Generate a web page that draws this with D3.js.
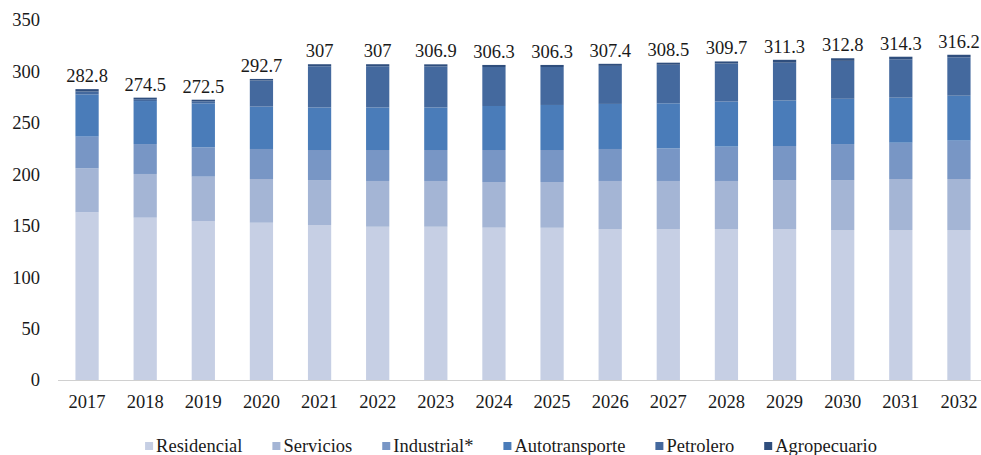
<!DOCTYPE html>
<html>
<head>
<meta charset="utf-8">
<script src="https://cdn.jsdelivr.net/npm/d3@7"></script>
<style>
  body { margin: 0; background: #fff; font-family: "Liberation Serif", serif; }
</style>
</head>
<body>
<div id="target"></div>
<script>
var years = ["2017", "2018", "2019", "2020", "2021", "2022", "2023", "2024", "2025", "2026", "2027", "2028", "2029", "2030", "2031", "2032"];
var sectors = ["Residencial", "Servicios", "Industrial*", "Autotransporte", "Petrolero", "Agropecuario"];
var colors = ["#c6cfe4", "#a4b5d5", "#7896c5", "#4a7cb9", "#44699e", "#2f4e7d"];

var residencial    = [163.0, 157.8, 154.6, 152.9, 150.7, 149.0, 149.0, 148.1, 148.0, 146.8, 146.8, 146.8, 146.8, 145.8, 145.8, 145.8];
var servicios      = [42.8, 42.5, 43.1, 42.5, 43.7, 44.5, 44.5, 44.4, 44.5, 46.7, 46.7, 46.7, 47.6, 48.6, 49.6, 49.6];
var industrial     = [30.8, 29.1, 28.5, 29.2, 29.2, 30.1, 30.1, 31.1, 31.1, 31.1, 31.7, 33.4, 33.1, 35.0, 35.3, 37.3];
var autotransporte = [41.1, 41.8, 42.8, 41.2, 41.4, 41.4, 41.4, 42.8, 43.8, 43.8, 43.8, 43.8, 44.2, 44.0, 43.8, 43.7];
var petrolero      = [2.8, 1.8, 2.0, 25.4, 40.0, 40.0, 39.9, 37.9, 36.9, 37.0, 37.5, 37.0, 36.8, 36.9, 37.3, 37.3];
var agropecuario   = [2.3, 1.5, 1.5, 1.5, 2.0, 2.0, 2.0, 2.0, 2.0, 2.0, 2.0, 2.0, 2.8, 2.5, 2.5, 2.5];
var totals = ["282.8", "274.5", "272.5", "292.7", "307", "307", "306.9", "306.3", "306.3", "307.4", "308.5", "309.7", "311.3", "312.8", "314.3", "316.2"];
var yTicks = [0, 50, 100, 150, 200, 250, 300, 350];

var WIDTH = 981, HEIGHT = 455;
var FONT = "Liberation Serif";
var FSIZE = 18.5;
var TXT = "#1a1a1a";

var series = [residencial, servicios, industrial, autotransporte, petrolero, agropecuario];
var rows = years.map(function(yr, i) {
  var r = { year: yr };
  sectors.forEach(function(s, k) { r[s] = series[k][i]; });
  return r;
});

var svg = d3.select("#target").append("svg")
  .attr("width", WIDTH).attr("height", HEIGHT)
  .attr("font-family", FONT)
  .attr("font-size", FSIZE);

var x = d3.scaleBand().domain(years).range([58, 988]).paddingInner(0.6).paddingOuter(0.3);
var y = d3.scaleLinear().domain([0, 350]).range([380, 20]);

var stacked = d3.stack().keys(sectors)(rows);

// puts the same font on every label
var serif = function(sel) {
  sel.attr("font-family", FONT)
    .attr("font-size", FSIZE)
    .attr("fill", TXT)
    .style("font-family", FONT)
    .style("font-size", FSIZE + "px");
};

// y tick labels only, no axis line
svg.append("g")
  .selectAll("text")
  .data(yTicks)
  .enter()
  .append("text")
  .attr("x", 40)
  .attr("y", function(d) { return y(d); })
  .attr("dy", "0.35em")
  .attr("text-anchor", "end")
  .call(serif)
  .text(function(d) { return d; });

svg.append("g")
  .selectAll("g")
  .data(stacked)
  .enter()
  .append("g")
  .attr("fill", function(d, i) { return colors[i]; })
  .selectAll("rect")
  .data(function(d) { return d; })
  .enter()
  .append("rect")
  .attr("x", function(d) { return x(d.data.year); })
  .attr("width", x.bandwidth())
  .attr("y", function(d) { return y(d[1]); })
  .attr("height", function(d) { return y(d[0]) - y(d[1]); });

// baseline
svg.append("line")
  .attr("x1", 58).attr("x2", WIDTH)
  .attr("y1", y(0) + 0.5).attr("y2", y(0) + 0.5)
  .attr("stroke", "#d0d0d0")
  .attr("stroke-width", 1);

var xAxis = svg.append("g")
  .attr("transform", "translate(0," + y(0) + ")")
  .call(d3.axisBottom(x).tickSize(0).tickPadding(15));
xAxis.attr("font-family", FONT).attr("font-size", FSIZE);
xAxis.select(".domain").remove();
xAxis.selectAll("text").call(serif);

// totals above bars
svg.append("g")
  .selectAll("text")
  .data(years)
  .enter()
  .append("text")
  .attr("x", function(d) { return x(d) + x.bandwidth() / 2; })
  .attr("y", function(d, i) { return y(+totals[i]) - 7; })
  .attr("text-anchor", "middle")
  .call(serif)
  .text(function(d, i) { return totals[i]; });

// legend, laid out by measured text width
var legend = svg.append("g");
var items = legend.selectAll("g").data(sectors).enter().append("g");
items.append("rect")
  .attr("width", 8).attr("height", 8)
  .attr("y", -10)
  .attr("fill", function(d, i) { return colors[i]; });
items.append("text")
  .attr("x", 11)
  .attr("y", 0)
  .call(serif)
  .text(function(d) { return d; });

var gap = 30, pos = 0, offsets = [];
items.each(function(d) {
  offsets.push(pos);
  pos += this.getBBox().width + gap;
});
var totalW = pos - gap;
var startX = 511 - totalW / 2;
items.attr("transform", function(d, i) { return "translate(" + (startX + offsets[i]) + ",452)"; });
</script>
</body>
</html>
